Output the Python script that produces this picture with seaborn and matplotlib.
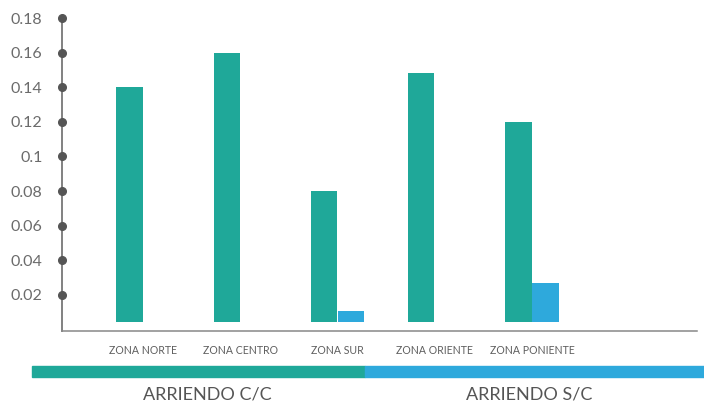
import numpy as np
import pandas as pd
import matplotlib
matplotlib.use("Agg")
import matplotlib.pyplot as plt
from matplotlib.patches import Rectangle
import seaborn as sns

# Chart data
zones = ["ZONA NORTE", "ZONA CENTRO", "ZONA SUR", "ZONA ORIENTE", "ZONA PONIENTE"]
series = ["C/C", "S/C"]
values_cc = [0.14, 0.16, 0.08, 0.148, 0.12]
values_sc = [np.nan, np.nan, 0.011, np.nan, 0.027]
y_ticks = [0.02, 0.04, 0.06, 0.08, 0.1, 0.12, 0.14, 0.16, 0.18]
y_tick_labels = ["0.02", "0.04", "0.06", "0.08", "0.1", "0.12", "0.14", "0.16", "0.18"]
group_labels = ["ARRIENDO C/C", "ARRIENDO S/C"]

TEAL = "#1fa899"
BLUE = "#2ea9dc"
BASE = 0.0044  # bars float slightly above the axis line

sns.set_theme(style="white")
plt.rcParams["font.family"] = ["Lato", "DejaVu Sans"]

df = pd.DataFrame({
    "zona": zones * 2,
    "serie": [series[0]] * len(zones) + [series[1]] * len(zones),
    "valor": values_cc + values_sc,
})
df["alto"] = df["valor"] - BASE

fig = plt.figure(figsize=(7.04, 4.05), dpi=100)
ax = fig.add_axes([62 / 704, 1 - 331 / 405, (697 - 62) / 704, (331 - 18) / 405])

sns.barplot(data=df, x="zona", y="alto", hue="serie", order=zones,
            hue_order=series, palette=[TEAL, BLUE], saturation=1, width=0.555,
            dodge=True, gap=0.03, bottom=BASE, linewidth=0, ax=ax, legend=False)

ax.set_xlim(-0.833, 5.697)
ax.set_ylim(-0.0008, 0.18)
ax.set_xlabel("")
ax.set_ylabel("")

# axis lines
for side in ("top", "right"):
    ax.spines[side].set_visible(False)
ax.spines["left"].set_color("#777777")
ax.spines["left"].set_linewidth(1.3)
ax.spines["bottom"].set_color("#888888")
ax.spines["bottom"].set_linewidth(1.1)

# y ticks: dots on the axis with grey labels
ax.set_yticks(y_ticks)
ax.set_yticklabels(y_tick_labels, fontsize=11.5, color="#6b6b6b")
ax.tick_params(axis="y", length=0, pad=14)
ax.plot([ax.get_xlim()[0]] * len(y_ticks), y_ticks, "o", color="#555555",
        markersize=5.5, clip_on=False, zorder=5)

ax.set_xticks(range(len(zones)))
ax.set_xticklabels(zones, fontsize=7.6, color="#5e5e5e")
ax.tick_params(axis="x", length=0, pad=10)

# group band below the chart
split = 365 / 704
y0 = 1 - 377 / 405
h = 11 / 405
fig.patches.append(Rectangle((32 / 704, y0), split - 32 / 704, h,
                             transform=fig.transFigure, color=TEAL, zorder=0))
fig.patches.append(Rectangle((split, y0), 1 - split, h,
                             transform=fig.transFigure, color=BLUE, zorder=0))
fig.text(207 / 704, 1 - 394 / 405, group_labels[0], ha="center", va="center",
         fontsize=13, color="#555555")
fig.text(529 / 704, 1 - 394 / 405, group_labels[1], ha="center", va="center",
         fontsize=13, color="#555555")

fig.savefig("out.png", dpi=100)
